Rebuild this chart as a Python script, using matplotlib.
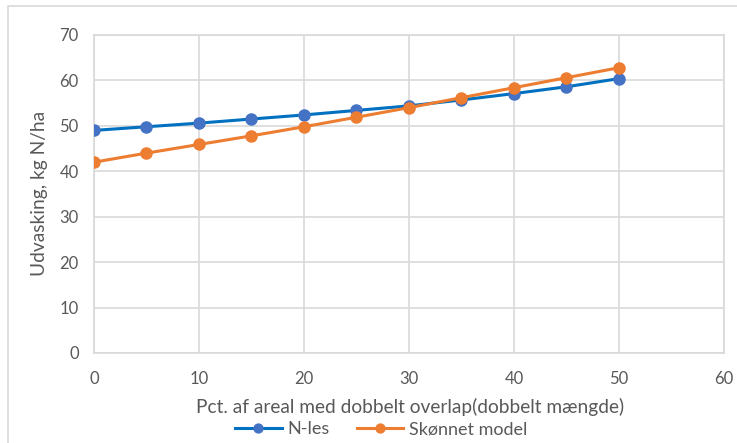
import matplotlib.pyplot as plt
from matplotlib.patches import Rectangle

plt.rcParams['font.family'] = ['Lato', 'DejaVu Sans']

pct = [0, 5, 10, 15, 20, 25, 30, 35, 40, 45, 50]
n_les = [49.0, 49.8, 50.6, 51.5, 52.4, 53.4, 54.4, 55.7, 57.1, 58.6, 60.4]
model = [42.0, 44.0, 45.9, 47.8, 49.8, 51.9, 54.0, 56.2, 58.4, 60.6, 62.8]

blue = '#4472c4'
blue_line = '#0070c0'
orange = '#ed7d31'
grid_c = '#d9d9d9'
text_c = '#595959'

fig = plt.figure(figsize=(7.37, 4.43), dpi=100)
ax = fig.add_axes([0.1275, 0.2032, 0.8548, 0.7178])

# ramme om hele diagrammet
fig.patches.append(Rectangle((8 / 737, -0.1), 1.2, 1 - 6 / 443 + 0.1,
                             transform=fig.transFigure, fill=False,
                             edgecolor=grid_c, linewidth=1.2))

ax.plot(pct, n_les, color=blue_line, linewidth=2.2, marker='o',
        markersize=8, markerfacecolor=blue, markeredgecolor=blue,
        label='N-les', zorder=3)
ax.plot(pct, model, color=orange, linewidth=2.2, marker='o',
        markersize=8, markerfacecolor=orange, markeredgecolor=orange,
        label='Skønnet model', zorder=4)

ax.set_xlim(0, 60)
ax.set_ylim(0, 70)
ax.set_xticks(range(0, 61, 10))
ax.set_yticks(range(0, 71, 10))
ax.grid(True, color=grid_c, linewidth=1.2)
ax.set_axisbelow(True)
for s in ax.spines.values():
    s.set_color(grid_c)
    s.set_linewidth(1.2)
ax.tick_params(length=0, labelsize=12, labelcolor=text_c)
ax.tick_params(axis='x', pad=13)
ax.tick_params(axis='y', pad=11)

ax.set_xlabel('Pct. af areal med dobbelt overlap(dobbelt mængde)',
              fontsize=13.8, color=text_c, va='center')
ax.set_ylabel('Udvasking, kg N/ha', fontsize=13.8, color=text_c, va='center')
ax.xaxis.set_label_coords(0.5016, -0.170)
ax.yaxis.set_label_coords(-0.0857, 0.503)

fig.legend(loc='center', bbox_to_anchor=(0.517, 0.0316), ncol=2, frameon=False,
           fontsize=13, labelcolor=text_c, handlelength=2.6,
           handletextpad=0.3, columnspacing=1.5, markerscale=0.8)

fig.savefig('out.png', dpi=100)
